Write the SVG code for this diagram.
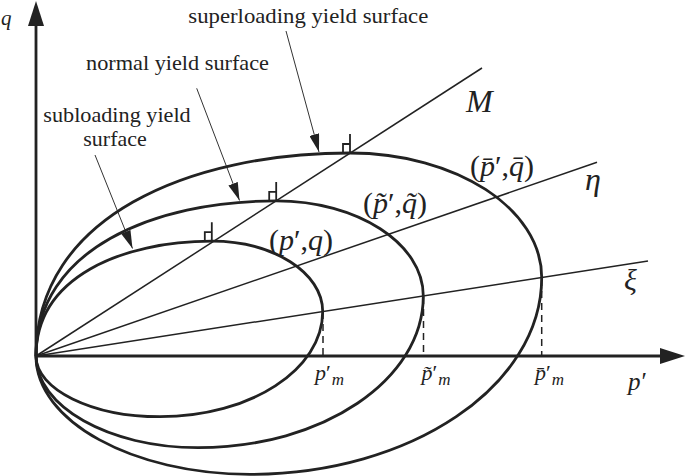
<svg xmlns="http://www.w3.org/2000/svg" xmlns:xlink="http://www.w3.org/1999/xlink" width="685" height="476" viewBox="0 0 685 476">
<style>
.ax{stroke:#222;stroke-width:2.8;fill:none}
.ell{stroke:#222;stroke-width:2.8;fill:none}
.ray{stroke:#222;stroke-width:1.5;fill:none}
.lead{stroke:#333;stroke-width:1;fill:none;marker-end:url(#ah)}
.dash{stroke:#222;stroke-width:1.5;stroke-dasharray:7 5;fill:none}
.ra{stroke:#222;stroke-width:1.8;fill:none}
text{font-family:'Liberation Serif','Times New Roman',serif;fill:#222}
.lbl{font-size:21px}
.i{font-style:italic}
.n{font-style:normal}
</style>
<defs>
<marker id="ah" markerUnits="userSpaceOnUse" markerWidth="18" markerHeight="10" refX="18" refY="5" orient="auto">
<path d="M0,0 L18,5 L0,10 z" fill="#222"/>
</marker>
<path id="rightangle" class="ra" d="M0,0 V-19 M0,-9 H-7 V0"/>
</defs>

<g id="axes">
<line class="ax" x1="36" y1="356" x2="36" y2="24"/>
<polygon points="36,1 28,26 44,26" fill="#222"/>
<line class="ax" x1="36" y1="356" x2="662" y2="356"/>
<polygon points="685,356 660,348 660,364" fill="#222"/>
<text class="i" x="1" y="25" font-size="21">q</text>
<text class="i" x="628" y="390" font-size="25">p<tspan class="n" dx="1">′</tspan></text>
</g>

<g id="connectors">
<line id="line-M" class="ray" x1="36" y1="356" x2="482" y2="68"/>
<line id="line-eta" class="ray" x1="36" y1="356" x2="597" y2="162.3"/>
<line id="line-xi" class="ray" x1="36" y1="356" x2="648" y2="261"/>
<line class="dash" x1="323" y1="312" x2="323" y2="356"/>
<line class="dash" x1="423.5" y1="297" x2="423.5" y2="356"/>
<line class="dash" x1="541.7" y1="279" x2="541.7" y2="356"/>
<line class="lead" x1="286" y1="31" x2="319" y2="152"/>
<line class="lead" x1="196.7" y1="88.3" x2="239.5" y2="200.5"/>
<line class="lead" x1="95" y1="155" x2="132.5" y2="248.5"/>
</g>

<g id="subloading-surface">
<path class="ell" d="M36,356 C36,277 122.1,241.2 211.8,241.2 C273.05,241.2 322.7,272.7 322.7,311.5 C322.7,369.6 250.5,416.7 160,416.7 C92,416.7 36,389.5 36,356 Z"/>
<use xlink:href="#rightangle" x="211.8" y="241.2"/>
</g>

<g id="normal-surface">
<path class="ell" d="M36,356 C36,249.3 153.7,200.9 276.2,200.9 C357.4,200.9 423.3,243.5 423.3,296 C423.3,379.8 323,447.7 198,447.7 C109,447.7 36,406.6 36,356 Z"/>
<use xlink:href="#rightangle" x="276.2" y="200.9"/>
</g>

<g id="superloading-surface">
<path class="ell" d="M36,356 C36,216 190,153 350,153 C455.9,153 541.7,208.7 541.7,277.5 C541.7,386.2 411,474.3 250,474.3 C133,474.3 36,421.3 36,356 Z"/>
<use xlink:href="#rightangle" x="350" y="153"/>
</g>

<g id="labels">
<text class="lbl" x="188.3" y="23" textLength="240" lengthAdjust="spacingAndGlyphs">superloading yield surface</text>
<text class="lbl" x="86" y="70" textLength="183" lengthAdjust="spacingAndGlyphs">normal yield surface</text>
<text class="lbl" x="43.3" y="122" textLength="147.4" lengthAdjust="spacingAndGlyphs">subloading yield</text>
<text class="lbl" x="83.3" y="146" textLength="63.4" lengthAdjust="spacingAndGlyphs">surface</text>
<text class="i" x="466" y="111.5" font-size="32">M</text>
<text class="i" x="585" y="190" font-size="32">η</text>
<text class="i" x="624" y="290" font-size="30">ξ</text>
<text x="269" y="250" font-size="30">(<tspan class="i">p</tspan>′,<tspan class="i">q</tspan>)</text>
<text x="363" y="212.5" font-size="30">(<tspan class="i">p̃</tspan>′,<tspan class="i">q̃</tspan>)</text>
<text x="470" y="175.5" font-size="30">(<tspan class="i">p̄</tspan>′,<tspan class="i">q̄</tspan>)</text>
<text x="315" y="380" font-size="22"><tspan class="i">p</tspan><tspan>′</tspan><tspan class="i" dx="1" dy="5" font-size="17">m</tspan></text>
<text x="421.5" y="380" font-size="22"><tspan class="i">p̃</tspan><tspan>′</tspan><tspan class="i" dx="1" dy="5" font-size="17">m</tspan></text>
<text x="535" y="380" font-size="22"><tspan class="i">p̄</tspan><tspan>′</tspan><tspan class="i" dx="1" dy="5" font-size="17">m</tspan></text>
</g>
</svg>
